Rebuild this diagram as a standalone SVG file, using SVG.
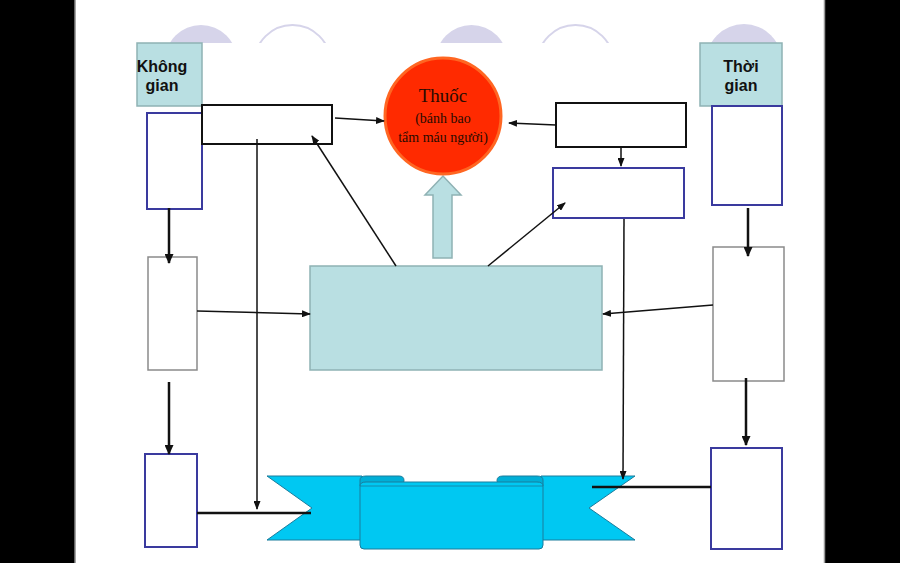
<svg xmlns="http://www.w3.org/2000/svg" width="900" height="563" viewBox="0 0 900 563">
<style>
.lbl{font-family:"Liberation Sans",Arial,sans-serif;font-weight:bold;font-size:16px;fill:#111;text-anchor:middle}
.ser{font-family:"Liberation Serif","Times New Roman",serif;fill:#2a0a00;text-anchor:middle}
.teal{fill:#b9dfe2;stroke:#8fb2b4;stroke-width:1.5}
.blue{fill:#fff;stroke:#3a3a9e;stroke-width:2}
.gray{fill:#fff;stroke:#8a8a8a;stroke-width:1.5}
.blk{fill:#fff;stroke:#111;stroke-width:2}
.thin{stroke:#111;stroke-width:1.5;fill:none}
.thick{stroke:#111;stroke-width:2.5;fill:none}
.rib{fill:#00c8f2;stroke:#1a7c9c;stroke-width:1}
.ribd{fill:#00aed6;stroke:#1a7c9c;stroke-width:1}
</style>
<defs>
<marker id="ah" markerUnits="userSpaceOnUse" markerWidth="9" markerHeight="7" refX="8" refY="3.5" orient="auto"><path d="M0,0 L9,3.5 L0,7 Z" fill="#111"/></marker>
<marker id="ahb" markerUnits="userSpaceOnUse" markerWidth="10" markerHeight="9" refX="9" refY="4.5" orient="auto"><path d="M0,0 L10,4.5 L0,9 Z" fill="#111"/></marker>
<clipPath id="topclip"><rect x="75" y="0" width="750" height="43"/></clipPath>
</defs>
<rect x="0" y="0" width="900" height="563" fill="#000"/>
<rect x="75" y="0" width="750" height="563" fill="#fff"/>
<line x1="75" y1="0" x2="75" y2="563" stroke="#888" stroke-width="1.5"/>
<line x1="824.5" y1="0" x2="824.5" y2="563" stroke="#999" stroke-width="1.5"/>
<g id="decor" clip-path="url(#topclip)">
<circle cx="201" cy="61" r="36" fill="#d6d4ea"/>
<circle cx="292.5" cy="63" r="38" fill="none" stroke="#d6d4ea" stroke-width="2"/>
<circle cx="471.5" cy="61" r="36" fill="#d6d4ea"/>
<circle cx="575.5" cy="63" r="38" fill="none" stroke="#d6d4ea" stroke-width="2"/>
<circle cx="744" cy="62" r="38" fill="#d6d4ea"/>
</g>
<g id="khong-gian">
<rect class="teal" x="137" y="43" width="65" height="63"/>
<text class="lbl" x="162" y="72">Không</text>
<text class="lbl" x="162" y="91">gian</text>
</g>
<g id="thoi-gian">
<rect class="teal" x="700" y="43" width="82" height="63"/>
<text class="lbl" x="741" y="72">Thời</text>
<text class="lbl" x="741" y="91">gian</text>
</g>
<g id="left-blue-top"><rect class="blue" x="147" y="113" width="55" height="96"/></g>
<g id="left-gray"><rect class="gray" x="148" y="257" width="49" height="113"/></g>
<g id="left-blue-bottom"><rect class="blue" x="145" y="454" width="52" height="93"/></g>
<g id="top-left-rect"><rect class="blk" x="202" y="105" width="130" height="39"/></g>
<g id="top-right-rect"><rect class="blk" x="556" y="103" width="130" height="44"/></g>
<g id="right-blue-mid"><rect class="blue" x="553" y="168" width="131" height="50"/></g>
<g id="right-blue-top"><rect class="blue" x="712" y="106" width="70" height="99"/></g>
<g id="right-gray"><rect class="gray" x="713" y="247" width="71" height="134"/></g>
<g id="right-blue-bottom"><rect class="blue" x="711" y="448" width="71" height="101"/></g>
<g id="center-box"><rect class="teal" x="310" y="266" width="292" height="104"/></g>
<g id="up-arrow">
<path d="M433,258 L433,195 L425,195 L443,176 L461,195 L452,195 L452,258 Z" fill="#b9dfe2" stroke="#8fb2b4" stroke-width="1.5"/>
</g>
<g id="thuoc">
<circle cx="443" cy="116" r="58" fill="#ff2a00" stroke="#ff6622" stroke-width="3"/>
<text class="ser" x="443" y="102" font-size="19">Thuốc</text>
<text class="ser" x="443" y="123" font-size="14">(bánh bao</text>
<text class="ser" x="443" y="142" font-size="14">tẩm máu người)</text>
</g>
<g id="ribbon">
<path class="rib" d="M267,476 L362,476 L362,540 L267,540 L312,508 Z"/>
<path class="rib" d="M635,476 L541,476 L541,540 L635,540 L589,508 Z"/>
<path class="ribd" d="M360,486 L360,480 Q360,476 366,476 L399,476 Q404,476 404,480.5 Q404,485 399,485 Z"/>
<path class="ribd" d="M543,486 L543,480 Q543,476 537,476 L503,476 Q497,476 497,480.5 Q497,485 503,485 Z"/>
<path class="rib" d="M360,486 Q360,482 366,482 L537,482 Q543,482 543,486 L543,545 Q543,549 539,549 L364,549 Q360,549 360,545 Z"/>
<line x1="360" y1="486" x2="543" y2="486" stroke="#1a7c9c" stroke-width="0.8"/>
</g>
<g id="connectors">
<line class="thin" x1="335" y1="118" x2="384" y2="121" marker-end="url(#ah)"/>
<line class="thin" x1="556" y1="125" x2="509" y2="123" marker-end="url(#ah)"/>
<line class="thin" x1="621" y1="147" x2="621" y2="166" marker-end="url(#ah)"/>
<line class="thin" x1="396" y1="266" x2="312" y2="136" marker-end="url(#ah)"/>
<line class="thin" x1="488" y1="266" x2="565" y2="203" marker-end="url(#ah)"/>
<line class="thin" x1="257" y1="139" x2="257" y2="509" marker-end="url(#ah)"/>
<line class="thin" x1="624" y1="219" x2="623" y2="479" marker-end="url(#ah)"/>
<line class="thin" x1="197" y1="311" x2="310" y2="314" marker-end="url(#ah)"/>
<line class="thin" x1="713" y1="305" x2="603" y2="314" marker-end="url(#ah)"/>
<line class="thick" x1="169" y1="208" x2="169" y2="263" marker-end="url(#ahb)"/>
<line class="thick" x1="169" y1="382" x2="169" y2="454" marker-end="url(#ahb)"/>
<line class="thick" x1="748" y1="208" x2="748" y2="256" marker-end="url(#ahb)"/>
<line class="thick" x1="746" y1="378" x2="746" y2="445" marker-end="url(#ahb)"/>
<line class="thick" x1="197" y1="513" x2="311" y2="513"/>
<line class="thick" x1="711" y1="487" x2="592" y2="487"/>
</g>
</svg>
